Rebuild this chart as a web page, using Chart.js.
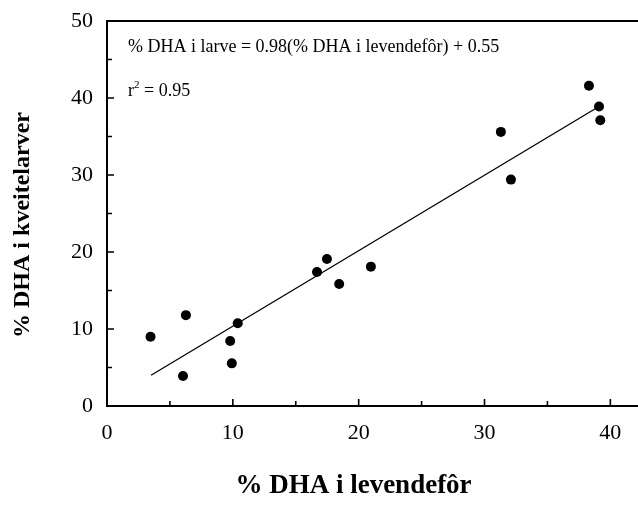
<!DOCTYPE html>
<html>
<head>
<meta charset="utf-8">
<script src="https://cdn.jsdelivr.net/npm/chart.js@4"></script>
<style>
  html, body { margin: 0; padding: 0; background: #ffffff; }
  #wrap { width: 638px; height: 507px; }
</style>
</head>
<body>
<div id="wrap"><canvas id="c" width="638" height="507"></canvas></div>
<script>
// ---- data ----
const feedDHA  = [3.46, 6.27, 6.04, 9.79, 9.92, 10.39, 16.69, 17.48, 18.45, 20.97, 31.3, 32.1, 38.3, 39.1, 39.2];
const larvaDHA = [9.0, 11.8, 3.9, 8.44, 5.54, 10.74, 17.4, 19.09, 15.84, 18.1, 35.6, 29.4, 41.6, 38.9, 37.1];
const fitX = [3.5, 38.9];
const fitY = [4.0, 38.7];
const xTickLabels = ['0', '10', '20', '30', '40'];
const yTickLabels = ['0', '10', '20', '30', '40', '50'];
const xTitle = '% DHA i levendefôr';
const yTitle = '% DHA i kveitelarver';
const eqText = '% DHA i larve = 0.98(% DHA i levendefôr) + 0.55';
const r2Parts = ['r', '2', ' = 0.95'];

const SERIF = "'Liberation Serif', 'Times New Roman', Times, serif";

const points = feedDHA.map((x, i) => ({ x: x, y: larvaDHA[i] }));
const fitLine = fitX.map((x, i) => ({ x: x, y: fitY[i] }));

const framePlugin = {
  id: 'frame',
  afterDraw(chart) {
    const ctx = chart.ctx;
    const a = chart.chartArea;
    const xs = chart.scales.x, ys = chart.scales.y;
    ctx.save();
    ctx.strokeStyle = '#000';
    ctx.lineCap = 'butt';
    // frame: left, bottom, top
    ctx.lineWidth = 2;
    ctx.beginPath();
    ctx.moveTo(a.left, a.top);
    ctx.lineTo(a.left, a.bottom + 1);
    ctx.moveTo(a.left - 1, a.bottom);
    ctx.lineTo(chart.width, a.bottom);
    ctx.moveTo(a.left - 1, a.top);
    ctx.lineTo(chart.width, a.top);
    ctx.stroke();
    // inward tick marks
    ctx.lineWidth = 1.6;
    ctx.beginPath();
    xs.ticks.forEach(t => {
      if (t.value <= xs.min || t.value > xs.max) return;
      const px = xs.getPixelForValue(t.value);
      const len = (t.value % 10 === 0) ? 7 : 5;
      ctx.moveTo(px, a.bottom);
      ctx.lineTo(px, a.bottom - len);
    });
    ys.ticks.forEach(t => {
      if (t.value <= ys.min || t.value >= ys.max) return;
      const py = ys.getPixelForValue(t.value);
      const len = (t.value % 10 === 0) ? 7 : 5;
      ctx.moveTo(a.left, py);
      ctx.lineTo(a.left + len, py);
    });
    ctx.stroke();

    // annotations
    ctx.fillStyle = '#000';
    ctx.textBaseline = 'alphabetic';
    ctx.textAlign = 'left';
    ctx.font = '18px ' + SERIF;
    const tx = a.left + 21;
    ctx.fillText(eqText, tx, a.top + 31);
    const by = a.top + 75;
    ctx.fillText(r2Parts[0], tx, by);
    let w = ctx.measureText(r2Parts[0]).width;
    ctx.font = '11px ' + SERIF;
    ctx.fillText(r2Parts[1], tx + w, by - 8);
    const w2 = ctx.measureText(r2Parts[1]).width;
    ctx.font = '18px ' + SERIF;
    ctx.fillText(r2Parts[2], tx + w + w2, by);

    // x axis title
    ctx.font = 'bold 27px ' + SERIF;
    ctx.textAlign = 'center';
    ctx.textBaseline = 'middle';
    ctx.fillText(xTitle, 353.5, 486);

    // y axis title (rotated)
    ctx.font = 'bold 24px ' + SERIF;
    ctx.translate(22.6, 225);
    ctx.rotate(-Math.PI / 2);
    ctx.fillText(yTitle, 0, 0);
    ctx.restore();
  }
};

new Chart(document.getElementById('c'), {
  type: 'scatter',
  data: {
    datasets: [
      {
        label: 'data',
        data: points,
        backgroundColor: '#000',
        borderColor: '#000',
        pointRadius: 5,
        pointHoverRadius: 5,
        borderWidth: 0
      },
      {
        type: 'line',
        label: 'fit',
        data: fitLine,
        showLine: true,
        borderColor: '#000',
        borderWidth: 1.3,
        pointRadius: 0,
        fill: false
      }
    ]
  },
  options: {
    responsive: false,
    animation: false,
    devicePixelRatio: 1,
    layout: { padding: { top: 21, right: 0, left: 0, bottom: 0 } },
    plugins: { legend: { display: false }, tooltip: { enabled: false } },
    scales: {
      x: {
        type: 'linear',
        min: 0,
        max: 41.8,
        grid: { display: false, drawTicks: false },
        border: { display: false },
        ticks: {
          stepSize: 5,
          includeBounds: false,
          padding: 14,
          color: '#000',
          maxRotation: 0,
          autoSkip: false,
          font: { family: SERIF, size: 22 },
          callback: (v) => (v % 10 === 0 ? xTickLabels[v / 10] : '')
        },
        title: { display: false },
        afterFit: (s) => { s.height = 101; s.paddingLeft = 0; s.paddingRight = 0; }
      },
      y: {
        type: 'linear',
        min: 0,
        max: 50,
        grid: { display: false, drawTicks: false },
        border: { display: false },
        ticks: {
          stepSize: 5,
          includeBounds: false,
          padding: 14,
          color: '#000',
          autoSkip: false,
          font: { family: SERIF, size: 22 },
          callback: (v) => (v % 10 === 0 ? yTickLabels[v / 10] : '')
        },
        afterFit: (s) => { s.width = 107; s.paddingTop = 0; s.paddingBottom = 0; }
      }
    }
  },
  plugins: [framePlugin]
});
</script>
</body>
</html>
